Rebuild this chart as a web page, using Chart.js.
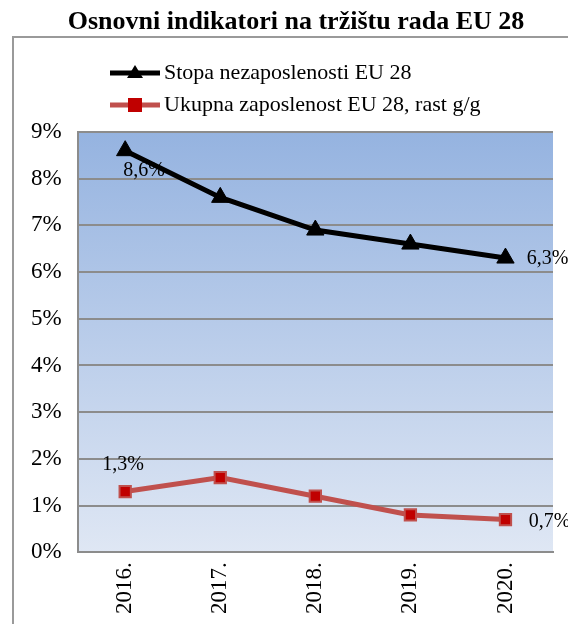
<!DOCTYPE html>
<html>
<head>
<meta charset="utf-8">
<script src="https://cdn.jsdelivr.net/npm/chart.js@4"></script>
<style>
  html, body { margin: 0; padding: 0; background: #fff; }
  #wrap { width: 568px; height: 624px; }
</style>
</head>
<body>
<div id="wrap"><canvas id="myChart" width="568" height="624"></canvas></div>
<script>
const years = ['2016.', '2017.', '2018.', '2019.', '2020.'];
const unemployment = [8.6, 7.6, 6.9, 6.6, 6.3];
const employmentGrowth = [1.3, 1.6, 1.2, 0.8, 0.7];
const yTicks = [0, 1, 2, 3, 4, 5, 6, 7, 8, 9];
const chartTitle = 'Osnovni indikatori na tržištu rada EU 28';

const serif = '"Liberation Serif", "Times New Roman", serif';
const fmt = v => v.toFixed(1).replace('.', ',') + '%';

// background gradient, outer frame, title, legend and value labels
const decor = {
    id: 'decor',
    beforeDraw(chart) {
        const {ctx, chartArea: a} = chart;
        ctx.save();
        const g = ctx.createLinearGradient(0, a.top, 0, a.bottom);
        g.addColorStop(0, '#95b3e0');
        g.addColorStop(1, '#dfe7f4');
        ctx.fillStyle = g;
        ctx.fillRect(a.left, a.top, a.right - a.left, a.bottom - a.top);
        ctx.strokeStyle = '#9a9a9a';
        ctx.lineWidth = 2;
        ctx.strokeRect(13, 37, 600, 620);
        ctx.fillStyle = '#000';
        ctx.font = 'bold 26px ' + serif;
        ctx.textAlign = 'center';
        ctx.textBaseline = 'middle';
        ctx.fillText(chartTitle, 296, 22);
        ctx.restore();
    },
    afterDraw(chart) {
        const {ctx} = chart;
        ctx.save();
        // legend
        chart.data.datasets.forEach((ds, i) => {
            const y = 73 + i * 32;
            ctx.strokeStyle = ds.borderColor;
            ctx.lineWidth = 5;
            ctx.beginPath();
            ctx.moveTo(110, y);
            ctx.lineTo(160, y);
            ctx.stroke();
            ctx.fillStyle = ds.pointBackgroundColor;
            if (ds.pointStyle === 'triangle') {
                ctx.beginPath();
                ctx.moveTo(135, y - 8);
                ctx.lineTo(143, y + 5);
                ctx.lineTo(127, y + 5);
                ctx.closePath();
                ctx.fill();
            } else {
                ctx.fillRect(128, y - 7, 14, 14);
            }
            ctx.fillStyle = '#000';
            ctx.font = '22px ' + serif;
            ctx.textBaseline = 'middle';
            ctx.textAlign = 'left';
            ctx.fillText(ds.label, 164, y);
        });
        // value labels
        ctx.font = '20px ' + serif;
        ctx.fillStyle = '#000';
        ctx.textAlign = 'center';
        ctx.textBaseline = 'middle';
        const m0 = chart.getDatasetMeta(0).data;
        const m1 = chart.getDatasetMeta(1).data;
        const last = years.length - 1;
        ctx.fillText(fmt(unemployment[0]), m0[0].x + 19, m0[0].y + 20);
        ctx.fillText(fmt(unemployment[last]), m0[last].x + 42, m0[last].y + 1);
        ctx.fillText(fmt(employmentGrowth[0]), m1[0].x - 2, m1[0].y - 27);
        ctx.fillText(fmt(employmentGrowth[last]), m1[last].x + 44, m1[last].y + 2);
        ctx.restore();
    }
};

new Chart(document.getElementById('myChart'), {
    type: 'line',
    data: {
        labels: years,
        datasets: [{
            label: 'Stopa nezaposlenosti EU 28',
            data: unemployment,
            borderColor: '#000000',
            borderWidth: 5,
            pointStyle: 'triangle',
            pointRadius: 10,
            pointBackgroundColor: '#000000',
            pointBorderColor: '#000000',
            pointBorderWidth: 1,
        }, {
            label: 'Ukupna zaposlenost EU 28, rast g/g',
            data: employmentGrowth,
            borderColor: '#c0504d',
            borderWidth: 5,
            pointStyle: 'rect',
            pointRadius: 8,
            pointBackgroundColor: '#c00000',
            pointBorderColor: '#c0504d',
            pointBorderWidth: 2,
        }],
    },
    options: {
        responsive: false,
        animation: false,
        layout: {padding: {top: 132, left: 15, right: 15, bottom: 0}},
        plugins: {
            legend: {display: false},
            tooltip: {enabled: false},
            title: {display: false},
        },
        scales: {
            x: {
                offset: true,
                grid: {display: false, drawTicks: false},
                border: {color: '#8c8c8c', width: 2},
                ticks: {
                    color: '#000',
                    font: {family: serif, size: 23},
                    maxRotation: 90,
                    minRotation: 90,
                    padding: 10,
                },
            },
            y: {
                min: 0,
                max: 9,
                afterBuildTicks(axis) { axis.ticks = yTicks.map(v => ({value: v})); },
                grid: {color: '#8c8c8c', lineWidth: 2, drawTicks: false},
                border: {color: '#8c8c8c', width: 2},
                ticks: {
                    color: '#000',
                    font: {family: serif, size: 23},
                    padding: 16,
                    callback: v => v + '%',
                },
            },
        },
    },
    plugins: [decor],
});
</script>
</body>
</html>
